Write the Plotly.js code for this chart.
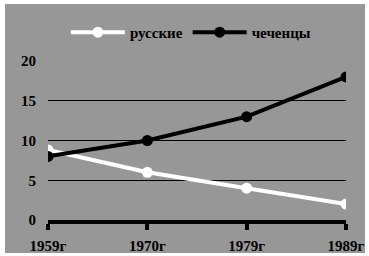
<!DOCTYPE html>
<html>
<head>
<meta charset="utf-8">
<script src="https://cdn.plot.ly/plotly-3.0.1.min.js"></script>
<style>
html,body{margin:0;padding:0;background:#ffffff;width:369px;height:256px;overflow:hidden;}
#chart{position:absolute;left:5px;top:4px;width:360px;height:249px;}
</style>
</head>
<body>
<div id="chart"></div>
<script>
var years = ["1959г", "1970г", "1979г", "1989г"];
var russians = [8.8, 6, 4, 2];
var chechens = [8, 10, 13, 18];
var yTicks = [0, 5, 10, 15, 20];

var font = {family: "Liberation Serif", size: 15, color: "#000000", weight: 700};

var traces = [
  {x: years, y: russians, name: "русские", type: "scatter", mode: "lines+markers",
   line: {color: "#ffffff", width: 4}, marker: {color: "#ffffff", size: 11}},
  {x: years, y: chechens, name: "чеченцы", type: "scatter", mode: "lines+markers",
   line: {color: "#000000", width: 4}, marker: {color: "#000000", size: 11}}
];

var layout = {
  width: 360, height: 249,
  margin: {l: 43, r: 19, t: 48, b: 33},
  paper_bgcolor: "#979797",
  plot_bgcolor: "#979797",
  font: font,
  showlegend: true,
  legend: {orientation: "h", x: 0.06, xanchor: "left", y: 1.18, yanchor: "middle",
           bgcolor: "rgba(0,0,0,0)", font: font, itemwidth: 54, tracegroupgap: 0},
  xaxis: {type: "category", range: [0, 3], showgrid: false, zeroline: false,
          showline: true, linecolor: "#000000", linewidth: 4,
          ticks: "outside", ticklen: 6, tickwidth: 4, tickcolor: "#000000",
          tickfont: font, ticklabelstandoff: 3, fixedrange: true},
  yaxis: {range: [0, 20], tickvals: yTicks, ticktext: yTicks.map(String),
          showgrid: true, gridcolor: "#000000", gridwidth: 1, zeroline: false,
          showline: false, ticks: "", tickfont: font, ticklabelstandoff: 11, fixedrange: true}
};

Plotly.newPlot("chart", traces, layout, {displayModeBar: false, staticPlot: true});
</script>
</body>
</html>
